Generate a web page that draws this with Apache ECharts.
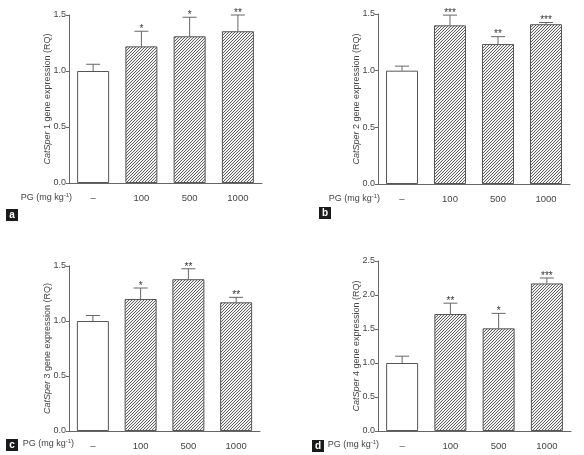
<!DOCTYPE html>
<html><head><meta charset="utf-8">
<script src="https://cdn.jsdelivr.net/npm/echarts@6/dist/echarts.min.js"></script>
<style>html,body{margin:0;padding:0;background:#fff}#c{width:584px;height:455px}</style>
</head><body><div id="c"></div>
<script>
const categories = ['\u2013', '100', '500', '1000'];
const meanA = [1.00, 1.22, 1.31, 1.355];
const semA  = [0.06, 0.135, 0.17, 0.145];
const starsA = ['', '*', '*', '**'];
const meanB = [1.00, 1.40, 1.235, 1.41];
const semB  = [0.04, 0.09, 0.065, 0.015];
const starsB = ['', '***', '**', '***'];
const meanC = [1.00, 1.20, 1.38, 1.17];
const semC  = [0.05, 0.10, 0.095, 0.045];
const starsC = ['', '*', '**', '**'];
const meanD = [1.00, 1.72, 1.51, 2.17];
const semD  = [0.10, 0.16, 0.22, 0.08];
const starsD = ['', '**', '*', '***'];
const geneNums = ['1', '2', '3', '4'];
const panelLetters = ['a', 'b', 'c', 'd'];
const yMaxes = [1.5, 1.5, 1.5, 2.5];

const FONT = '"Liberation Sans", Arial, Helvetica, sans-serif';
const AXIS = '#666';
const TXT = '#444';

// hatch pattern (fine diagonal lines)
const S = 3;
const pc = document.createElement('canvas');
pc.width = S; pc.height = S;
const g = pc.getContext('2d');
g.fillStyle = '#f2f2f2'; g.fillRect(0, 0, S, S);
g.strokeStyle = '#505050'; g.lineWidth = 0.9;
g.beginPath();
for (let k = -1; k <= 1; k++) {
  g.moveTo(k * S - 1, S + 1); g.lineTo(k * S + S + 1, -1);
}
g.stroke();

const panels = [
  {mean: meanA, sem: semA, stars: starsA},
  {mean: meanB, sem: semB, stars: starsB},
  {mean: meanC, sem: semC, stars: starsC},
  {mean: meanD, sem: semD, stars: starsD}
];
const grids = [
  {left: 69, top: 15, width: 193, height: 168},
  {left: 378, top: 14, width: 192, height: 170},
  {left: 69, top: 266, width: 191, height: 165},
  {left: 378, top: 261, width: 193, height: 170}
];

const xAxis = [], yAxis = [], series = [];
panels.forEach((p, i) => {
  xAxis.push({
    type: 'category', gridIndex: i, data: categories,
    axisLine: {lineStyle: {color: AXIS, width: 1}},
    axisTick: {alignWithLabel: true, length: 4, lineStyle: {color: AXIS}},
    axisLabel: {color: TXT, fontSize: 9.5, fontFamily: FONT, margin: 10}
  });
  yAxis.push({
    type: 'value', gridIndex: i, min: 0, max: yMaxes[i], interval: 0.5,
    splitLine: {show: false},
    axisLine: {show: true, lineStyle: {color: AXIS, width: 1}},
    axisTick: {show: true, length: 3, lineStyle: {color: AXIS}},
    axisLabel: {color: TXT, fontSize: 9, fontFamily: FONT, margin: 3, formatter: v => v.toFixed(1)},
    name: '{i|CatSper} ' + geneNums[i] + ' gene expression (RQ)',
    nameLocation: 'middle', nameRotate: 90, nameGap: 17, nameMoveOverlap: false,
    nameTextStyle: {color: TXT, fontSize: 9, fontFamily: FONT,
      rich: {i: {fontStyle: 'italic', color: TXT, fontSize: 9, fontFamily: FONT}}}
  });
  series.push({
    type: 'bar', xAxisIndex: i, yAxisIndex: i, barWidth: 32,
    data: p.mean.map((v, k) => ({
      value: v,
      itemStyle: k === 0
        ? {color: '#fff', borderColor: '#555', borderWidth: 1}
        : {color: {image: pc, repeat: 'repeat'}, borderColor: '#555', borderWidth: 1}
    })),
    silent: true
  });
  series.push({
    type: 'custom', xAxisIndex: i, yAxisIndex: i, silent: true, z: 5,
    data: p.mean.map((v, k) => [k, v, p.sem[k]]),
    renderItem: (params, api) => {
      const x = api.value(0), y = api.value(1), e = api.value(2);
      const p0 = api.coord([x, y]);
      const p1 = api.coord([x, y + e]);
      const hw = 7;
      return {
        type: 'group',
        children: [
          {type: 'line', shape: {x1: p0[0], y1: p0[1], x2: p1[0], y2: p1[1]}, style: {stroke: '#666', lineWidth: 1}},
          {type: 'line', shape: {x1: p1[0] - hw, y1: p1[1], x2: p1[0] + hw, y2: p1[1]}, style: {stroke: '#666', lineWidth: 1}},
          {type: 'text', x: p1[0], y: p1[1] + 3, style: {text: p.stars[params.dataIndex], fill: '#333', fontSize: 10, fontFamily: FONT, align: 'center', verticalAlign: 'bottom'}}
        ]
      };
    }
  });
});

const pgPos = [[72, 198], [380, 199], [74, 444], [379, 445]];
const boxPos = [[6, 209], [319, 207], [6, 439], [312, 440]];
const graphic = [];
pgPos.forEach(([x, y]) => {
  graphic.push({
    type: 'text', x: x, y: y,
    style: {
      text: 'PG (mg kg{s|-1})', fill: TXT, fontSize: 9, fontFamily: FONT,
      align: 'right', verticalAlign: 'middle',
      rich: {s: {fontSize: 6, fill: TXT, fontFamily: FONT, padding: [0, 0, 5, 0]}}
    }
  });
});
boxPos.forEach(([x, y], i) => {
  graphic.push({type: 'rect', shape: {x: x, y: y, width: 12, height: 12}, style: {fill: '#1a1a1a'}});
  graphic.push({type: 'text', x: x + 6, y: y + 6.5,
    style: {text: panelLetters[i], fill: '#fff', fontSize: 10, fontWeight: 'bold', fontFamily: FONT, align: 'center', verticalAlign: 'middle'}});
});

const chart = echarts.init(document.getElementById('c'), null, {renderer: 'canvas'});
chart.setOption({
  animation: false,
  backgroundColor: '#fff',
  grid: grids,
  xAxis: xAxis,
  yAxis: yAxis,
  series: series,
  graphic: graphic
});
</script>
</body></html>
